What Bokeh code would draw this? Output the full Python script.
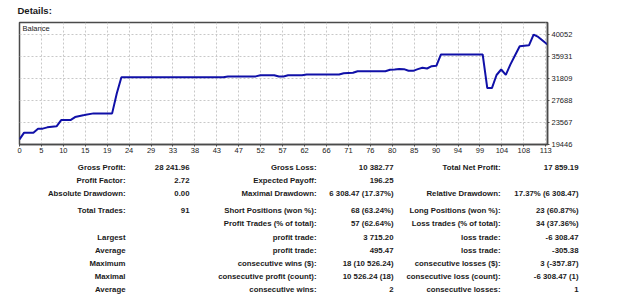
from bokeh.plotting import figure
from bokeh.layouts import column
from bokeh.models import Range1d, FixedTicker, Label
from bokeh.embed import file_html
from bokeh.resources import INLINE
from bokeh.core.properties import value

# Balance curve: trade index -> account balance
balance_idx = [0, 1, 3, 4, 5, 6, 7, 8, 9, 11, 12, 13, 14, 16, 20, 21, 22, 44, 45, 51,
               52, 55, 56, 57, 58, 61, 62, 69, 70, 72, 73, 79, 80, 81, 82, 83, 84, 85,
               86, 87, 88, 89, 90, 91, 100, 101, 102, 103, 104, 105, 106, 107, 108,
               110, 111, 112, 113, 114]
balance_val = [20400, 21668, 21668, 22414, 22414, 22657, 22750, 22844, 24020, 24020,
               24580, 24800, 24953, 25271, 25271, 28986, 32048, 32048, 32198, 32198,
               32422, 32422, 32179, 32179, 32422, 32422, 32553, 32553, 32780, 32870,
               33168, 33168, 33430, 33500, 33600, 33550, 33243, 33243, 33560, 33803,
               33673, 34102, 34180, 36318, 36318, 30010, 30010, 32459, 33486, 32496,
               34450, 36150, 37850, 38022, 40020, 39591, 38870, 38153]

x_tick_labels = ["0", "5", "10", "15", "19", "24", "29", "33", "38", "43", "47", "52",
                 "57", "62", "66", "71", "76", "80", "85", "90", "94", "99", "104",
                 "108", "113"]
y_tick_values = [19446, 23567, 27688, 31809, 35931, 40052]

# Report table, row by row, three label/value column pairs
col1_labels = ["Gross Profit:", "Profit Factor:", "Absolute Drawdown:", "Total Trades:", "",
               "Largest", "Average", "Maximum", "Maximal", "Average"]
col1_values = ["28 241.96", "2.72", "0.00", "91", "", "", "", "", "", ""]
col2_labels = ["Gross Loss:", "Expected Payoff:", "Maximal Drawdown:", "Short Positions (won %):",
               "Profit Trades (% of total):", "profit trade:", "profit trade:",
               "consecutive wins ($):", "consecutive profit (count):", "consecutive wins:"]
col2_values = ["10 382.77", "196.25", "6 308.47 (17.37%)", "68 (63.24%)", "57 (62.64%)",
               "3 715.20", "495.47", "18 (10 526.24)", "10 526.24 (18)", "2"]
col3_labels = ["Total Net Profit:", "", "Relative Drawdown:", "Long Positions (won %):",
               "Loss trades (% of total):", "loss trade:", "loss trade:",
               "consecutive losses ($):", "consecutive loss (count):", "consecutive losses:"]
col3_values = ["17 859.19", "", "17.37% (6 308.47)", "23 (60.87%)", "34 (37.36%)",
               "-6 308.47", "-305.38", "3 (-357.87)", "-6 308.47 (1)", "1"]

W, H = 625, 296
HEAD_H = 18
TOP_H = 158
FRAME_L, FRAME_R, FRAME_T, FRAME_B = 19, 547, 22, 144
X_END = 114
GRID_STEP = X_END / 24.08
FONT = "Liberation Sans"
EDGE = "#4a4a4a"
INK = "#1a1a1a"


def text_strip(y0, y1):
    """A blank strip whose data coordinates are page pixels."""
    f = figure(width=W, height=y1 - y0, output_backend="svg", toolbar_location=None,
               x_range=Range1d(0, W), y_range=Range1d(y1, y0),
               min_border=0, x_axis_type=None, y_axis_type=None)
    f.frame_align = False
    f.outline_line_color = None
    f.grid.visible = False
    f.background_fill_color = "white"
    f.border_fill_color = "white"
    return f


# ---- heading ----
head = text_strip(0, HEAD_H)
head.text(x=[17], y=[10], text=["Details:"], text_align="left", text_baseline="middle",
          text_font=value(FONT), text_font_size="9.5px", text_font_style="bold",
          text_color=INK)

# ---- balance chart ----
p = figure(width=W, height=TOP_H - HEAD_H, output_backend="svg", toolbar_location=None,
           x_range=Range1d(0, X_END), y_range=Range1d(19446, 42290),
           y_axis_location="right",
           min_border_left=FRAME_L, min_border_right=W - FRAME_R,
           min_border_top=FRAME_T - HEAD_H, min_border_bottom=TOP_H - FRAME_B)
p.frame_align = False
p.background_fill_color = "white"
p.border_fill_color = "white"
p.outline_line_color = EDGE
p.outline_line_width = 1.5

x_ticks = [k * GRID_STEP for k in range(len(x_tick_labels))]
p.xaxis.ticker = FixedTicker(ticks=x_ticks)
p.xaxis.major_label_overrides = {t: lab for t, lab in zip(x_ticks, x_tick_labels)}
p.yaxis.ticker = FixedTicker(ticks=y_tick_values)
p.yaxis.major_label_overrides = {v: str(v) for v in y_tick_values}

for ax in (p.xaxis[0], p.yaxis[0]):
    ax.axis_line_color = EDGE
    ax.axis_line_width = 1.5
    ax.major_tick_line_color = EDGE
    ax.major_tick_out = 2
    ax.major_tick_in = 0
    ax.minor_tick_line_color = None
    ax.major_label_text_font = FONT
    ax.major_label_text_font_size = "7.5px"
    ax.major_label_text_color = "#222222"
p.xaxis.major_label_standoff = 1
p.yaxis.major_label_standoff = 2

for g in (p.xgrid[0], p.ygrid[0]):
    g.grid_line_color = "#c8c8c8"
    g.grid_line_dash = "2 2"
    g.grid_line_width = 1
p.xgrid.ticker = FixedTicker(ticks=x_ticks)
p.ygrid.ticker = FixedTicker(ticks=y_tick_values)

p.line(balance_idx, balance_val, line_color="#1010a8", line_width=2)

p.add_layout(Label(x=3, y=FRAME_B - FRAME_T - 6, x_units="screen", y_units="screen",
                   text="Balance", text_align="left", text_baseline="middle",
                   text_font=FONT, text_font_size="7.5px", text_color=INK))

# ---- statistics table ----
t = text_strip(TOP_H, H)
row_y = [167, 180, 193, 210, 223, 237, 250, 263, 276, 289]
columns = [(col1_labels, 125), (col1_values, 189), (col2_labels, 316),
           (col2_values, 393), (col3_labels, 500), (col3_values, 578)]
for texts, right_x in columns:
    xs, ys, ts = [], [], []
    for s, y in zip(texts, row_y):
        if s:
            xs.append(right_x)
            ys.append(y)
            ts.append(s)
    t.text(x=xs, y=ys, text=ts, text_align="right", text_baseline="middle",
           text_font=value(FONT), text_font_size="7.8px", text_font_style="bold",
           text_color=INK)

open("out.html", "w").write(file_html(column(head, p, t, spacing=0), INLINE))
